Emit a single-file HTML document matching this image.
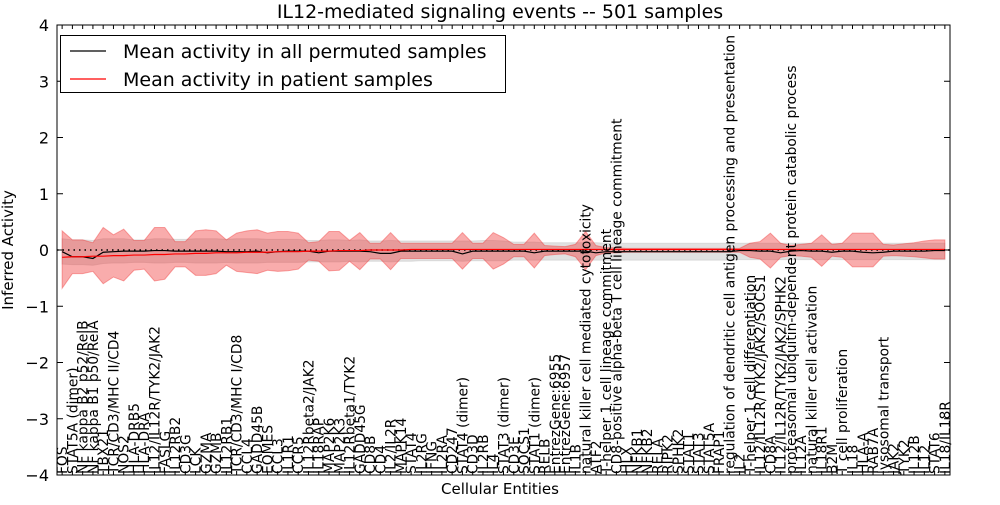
<!DOCTYPE html>
<html><head><meta charset="utf-8"><style>
body{margin:0;background:#fff;width:1000px;height:500px;overflow:hidden;font-family:"Liberation Sans","DejaVu Sans",sans-serif}
svg text{font-family:"DejaVu Sans","Liberation Sans",sans-serif}
</style></head><body>
<svg id="chart" width="1000" height="500" xmlns="http://www.w3.org/2000/svg"></svg>
<script>
const categories=["FOS","STAT5A (dimer)","NF kappa B2 p52/RelB","NF kappa B1 p50/RelA","TBX21","TCR/CD3/MHC II/CD4","NOS2","HLA-DRB5","HLA-DRA","IL12/IL12R/TYK2/JAK2","FASLG","IL12RB2","CD3G","LCK","GZMA","GZMB","IL12RB1","TCR/CD3/MHC I/CD8","CCL4","GADD45B","EOMES","CCL3","IL1R1","CCR5","IL12Rbeta2/JAK2","IL18RAP","MAP2K6","MAP2K3","IL12Rbeta1/TYK2","GADD45G","CD8B","CD4","IL2/IL2R","MAPK14","STAT4","IL2RG","IFNG","IL2RA","CD247","STAT4 (dimer)","CD3D","IL2RB","IL4","STAT3 (dimer)","CD3E","SOCS1","STAT1 (dimer)","RELB","EntrezGene:6955","EntrezGene:6957","IL1B","natural killer cell mediated cytotoxicity","ATF2","T-helper 1 cell lineage commitment","CD8-positive alpha-beta T cell lineage commitment","HLX","NFKB1","NFKB2","RELA","RIPK2","SPHK2","STAT1","STAT3","STAT5A","FRAP1","regulation of dendritic cell antigen processing and presentation","IL2","T-helper 1 cell differentiation","IL12/IL12R/TYK2/JAK2/SOCS1","CD8A","IL12/IL12R/TYK2/JAK2/SPHK2","proteasomal ubiquitin-dependent protein catabolic process","IL12A","natural killer cell activation","IL18R1","B2M","T cell proliferation","IL18","HLA-A","RAB7A","lysosomal transport","JAK2","TYK2","IL12B","IL12","STAT6","IL18/IL18R"];
const redUp=[.34,.18,.18,.13,.40,.27,.37,.17,.17,.40,.40,.15,.15,.34,.36,.34,.18,.30,.34,.36,.30,.33,.33,.30,.13,.15,.33,.33,.17,.31,.12,.12,.31,.12,.12,.12,.12,.12,.12,.31,.12,.12,.31,.22,.10,.10,.30,.08,.07,.06,.10,.33,.08,.04,.04,.03,.03,.03,.03,.03,.03,.03,.03,.03,.03,.03,.03,.12,.15,.30,.12,.08,.10,.12,.27,.10,.12,.30,.30,.30,.10,.09,.11,.13,.16,.18,.18];
const redLo=[-.68,-.42,-.42,-.38,-.60,-.48,-.55,-.36,-.34,-.55,-.52,-.30,-.30,-.45,-.45,-.42,-.27,-.38,-.40,-.42,-.36,-.38,-.37,-.34,-.18,-.20,-.37,-.36,-.20,-.35,-.16,-.16,-.35,-.15,-.15,-.15,-.15,-.15,-.15,-.34,-.15,-.15,-.34,-.25,-.12,-.12,-.32,-.10,-.08,-.07,-.12,-.35,-.10,-.05,-.05,-.04,-.04,-.04,-.04,-.04,-.04,-.04,-.04,-.04,-.04,-.04,-.04,-.13,-.16,-.32,-.13,-.10,-.11,-.13,-.29,-.11,-.13,-.30,-.30,-.30,-.11,-.10,-.11,-.12,-.14,-.16,-.16];
const grayUp=[.20,.18,.18,.17,.20,.20,.20,.18,.18,.20,.20,.19,.19,.20,.20,.20,.19,.20,.20,.20,.19,.19,.19,.19,.17,.17,.18,.18,.17,.18,.16,.16,.17,.16,.16,.16,.16,.16,.16,.16,.16,.17,.17,.16,.14,.14,.14,.13,.13,.13,.13,.13,.13,.12,.12,.12,.12,.12,.12,.12,.12,.12,.12,.12,.12,.12,.12,.12,.12,.12,.12,.12,.12,.12,.12,.12,.12,.12,.12,.12,.12,.12,.12,.12,.12,.12,.12];
const grayLo=[-.25,-.26,-.26,-.27,-.24,-.23,-.23,-.22,-.22,-.23,-.23,-.22,-.22,-.23,-.23,-.23,-.22,-.23,-.23,-.23,-.22,-.22,-.22,-.22,-.21,-.21,-.21,-.21,-.20,-.21,-.20,-.20,-.21,-.20,-.20,-.19,-.19,-.19,-.19,-.20,-.19,-.19,-.19,-.19,-.18,-.18,-.18,-.18,-.18,-.18,-.18,-.18,-.18,-.18,-.18,-.18,-.18,-.18,-.18,-.18,-.18,-.18,-.18,-.18,-.18,-.18,-.17,-.17,-.17,-.17,-.17,-.17,-.17,-.17,-.17,-.17,-.17,-.17,-.17,-.17,-.17,-.17,-.17,-.17,-.17,-.17,-.17];
const blackMean=[-.03,-.12,-.12,-.15,-.04,-.03,-.02,-.02,-.02,-.01,-.01,-.02,-.02,-.02,-.02,-.02,-.03,-.03,-.03,-.02,-.05,-.03,-.02,-.02,-.02,-.05,-.02,-.02,-.02,-.02,-.03,-.06,-.06,-.02,-.02,-.02,-.02,-.02,-.02,-.07,-.02,-.02,-.02,-.02,-.02,-.02,-.05,-.02,-.02,-.02,-.02,-.02,-.05,-.03,-.03,-.03,-.03,-.03,-.03,-.03,-.03,-.03,-.03,-.03,-.03,-.03,-.01,-.01,-.02,-.02,-.05,-.02,-.01,-.02,-.02,-.04,-.02,-.02,-.04,-.05,-.04,-.02,-.02,-.02,-.02,-.01,-.01];
const redMean=[-.13,-.12,-.12,-.11,-.11,-.10,-.10,-.09,-.09,-.08,-.08,-.07,-.07,-.06,-.06,-.05,-.05,-.05,-.04,-.04,-.04,-.03,-.03,-.03,-.02,-.02,-.02,-.01,-.01,-.01,0,0,0,0,.01,.01,.01,.01,.01,.01,.01,.01,.01,.01,.01,.01,.01,.01,.01,.01,.01,.01,.01,.01,.01,.01,.01,.01,.01,.01,.01,.01,.01,.01,.01,.01,.01,.01,.01,.01,.01,.01,.01,.01,.01,.01,.01,.01,.01,.01,.01,.01,.01,.01,.01,.01,.01];
const yTicks=[4,3,2,1,0,-1,-2,-3,-4];

const NS="http://www.w3.org/2000/svg";
const svg=document.getElementById('chart');
const L=57,R=950,T=25,B=475;
const x=i=>L+(i+0.5)*(R-L)/categories.length;
const y=v=>T+(4-v)*(B-T)/8;
function mk(tag,attrs,parent){const e=document.createElementNS(NS,tag);for(const k in attrs)e.setAttribute(k,attrs[k]);(parent||svg).appendChild(e);return e;}
function band(up,lo,fill,op,name){
  let d='M'+up.map((v,i)=>x(i)+','+y(v)).join('L');
  for(let i=lo.length-1;i>=0;i--)d+='L'+x(i)+','+y(lo[i]);
  const p=mk('path',{d:d+'Z',fill:fill,'fill-opacity':op,stroke:fill,'stroke-opacity':op,'stroke-width':1});
  
  
}
function line(vals,color,w,name){
  const p=mk('path',{d:'M'+vals.map((v,i)=>x(i)+','+y(v)).join('L'),fill:'none',stroke:color,'stroke-width':w});
  
  
}
band(grayUp,grayLo,'#c8c8c8',0.55,'permuted-range-band');
band(redUp,redLo,'#f03030',0.4,'patient-range-band');
const z=mk('line',{x1:L,x2:R,y1:y(0),y2:y(0),stroke:'#000','stroke-width':1.5,'stroke-dasharray':'1.5,4'});


line(blackMean,'#000',1.2,'permuted-mean-line');
line(redMean,'#f00',1.2,'patient-mean-line');
categories.forEach((c,i)=>{
  const t=mk('text',{x:0,y:0,transform:`translate(${x(i)+5},${B-1}) rotate(-90)`,'font-size':13.8,fill:'#000'});
  t.textContent=c;
  
  
  const tk=mk('line',{x1:x(i),x2:x(i),y1:B,y2:B-4,stroke:'#000'});
  
  
  const tk2=mk('line',{x1:x(i),x2:x(i),y1:T,y2:T+4,stroke:'#000'});
  
  
});
yTicks.forEach(v=>{
  const t=mk('text',{x:L-8,y:y(v)+6,'font-size':16,'text-anchor':'end'});
  t.textContent=v<0?'\u2212'+(-v):String(v);
  
  
  const a=mk('line',{x1:L,x2:L+6,y1:y(v),y2:y(v),stroke:'#000'});
  
  
  const b=mk('line',{x1:R,x2:R-6,y1:y(v),y2:y(v),stroke:'#000'});
  
  
});
const fr=mk('rect',{x:L,y:T,width:R-L,height:B-T,fill:'none',stroke:'#000','stroke-width':1});


</script>
<svg style="position:absolute;left:0;top:0" width="1000" height="500">
<text x="500" y="18" font-size="19" text-anchor="middle">IL12-mediated signaling events -- 501 samples</text>
<text transform="translate(13,250) rotate(-90)" font-size="15" text-anchor="middle">Inferred Activity</text>
<text x="500" y="494" font-size="15" text-anchor="middle">Cellular Entities</text>
<g>
<rect x="60.5" y="35.5" width="445" height="57" fill="#fff" stroke="#000"/>
<line x1="70" x2="106" y1="51" y2="51" stroke="#000" stroke-width="1.2"/>
<text x="123" y="58" font-size="19">Mean activity in all permuted samples</text>
<line x1="70" x2="106" y1="79" y2="79" stroke="#f00" stroke-width="1.2"/>
<text x="123" y="86" font-size="19">Mean activity in patient samples</text>
</g>
</svg>
</body></html>
